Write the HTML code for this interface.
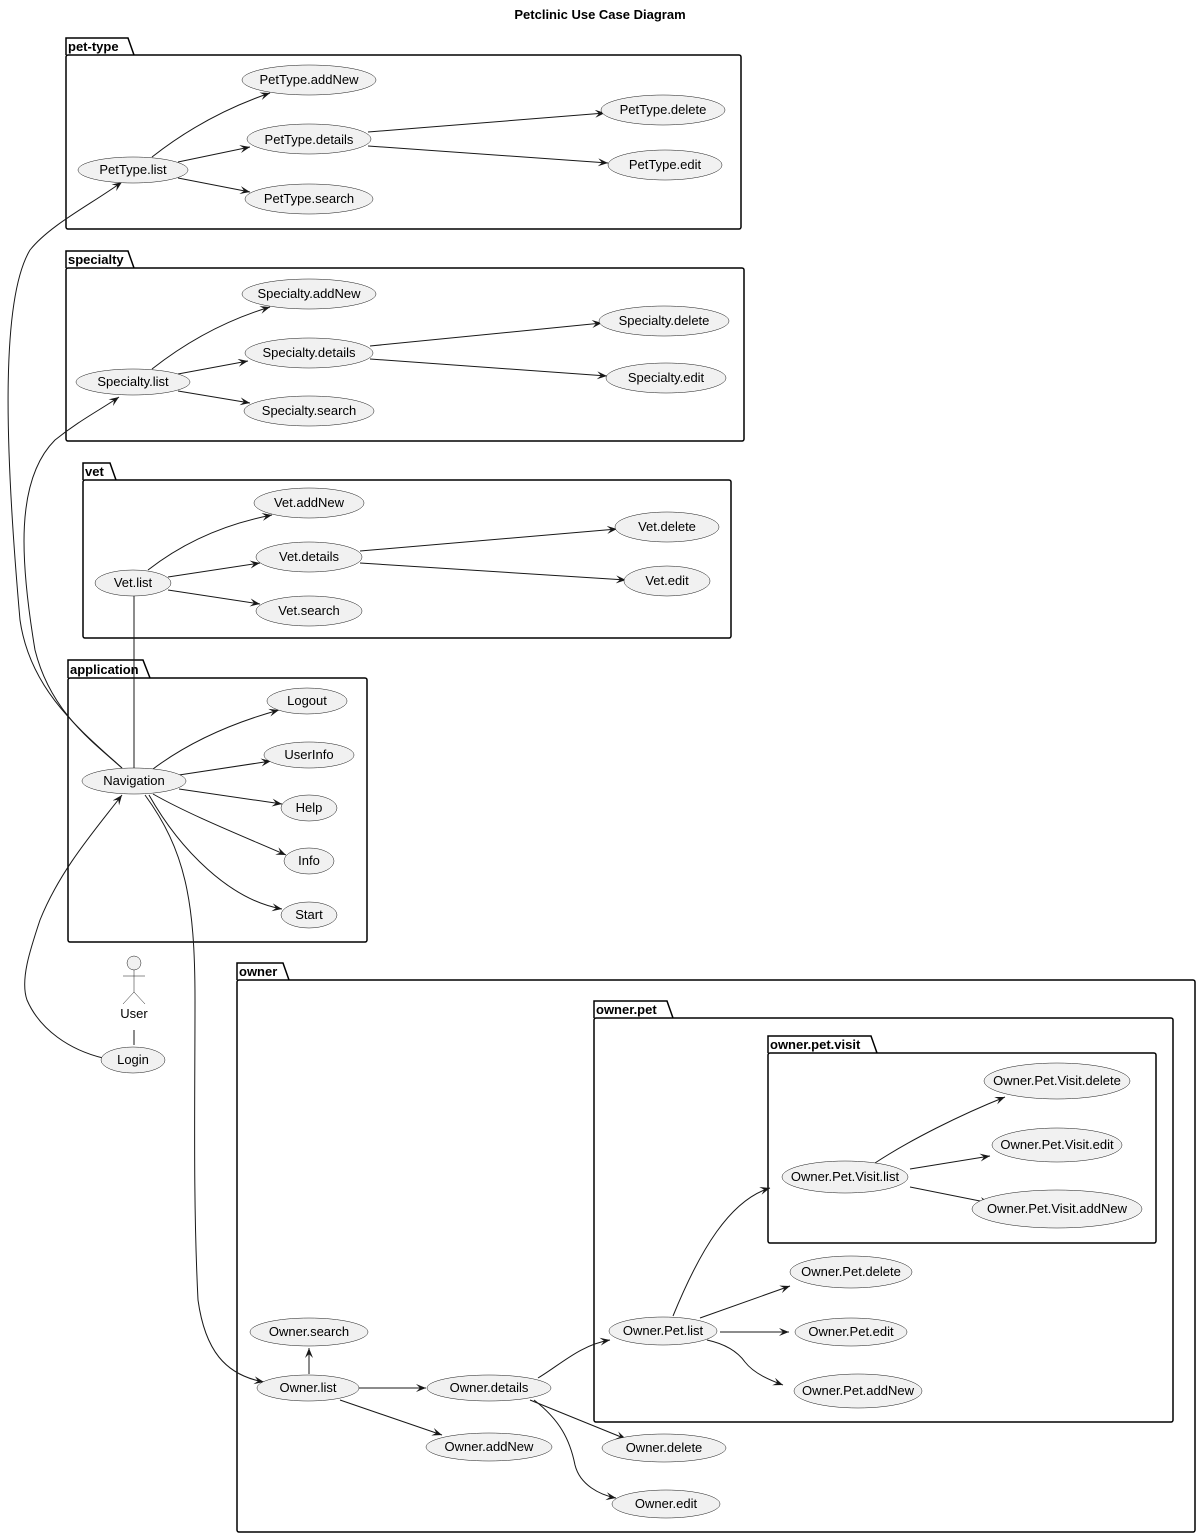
<!DOCTYPE html>
<html><head><meta charset="utf-8"><style>
html,body{margin:0;padding:0;background:#fff;}
svg{display:block;}
text{font-family:"Liberation Sans","DejaVu Sans",sans-serif;font-size:13px;fill:#000;}
.t{font-weight:bold;font-size:13px;}
ellipse{fill:#f1f1f1;stroke:#181818;stroke-width:0.5;}
.pk{fill:none;stroke:#000;stroke-width:1.5;}
.e{fill:none;stroke:#181818;stroke-width:1;}
.a{fill:none;stroke:#181818;stroke-width:1;marker-end:url(#ar);}
</style></head><body>
<svg width="1200" height="1537" viewBox="0 0 1200 1537" xmlns="http://www.w3.org/2000/svg">
<defs><marker id="ar" markerUnits="userSpaceOnUse" markerWidth="12" markerHeight="10" refX="10" refY="4" orient="auto"><path d="M0,0 L10,4 L0,8 L4,4 Z" fill="#181818"/></marker></defs>
<text x="600" y="19" text-anchor="middle" class="t">Petclinic Use Case Diagram</text>

<!-- packages -->
<g class="pk">
<path d="M66,55 V38 H128 L134,55"/><rect x="66" y="55" width="675" height="174" rx="2"/>
<path d="M66,268 V251 H128 L134,268"/><rect x="66" y="268" width="678" height="173" rx="2"/>
<path d="M83,480 V463 H110 L116,480"/><rect x="83" y="480" width="648" height="158" rx="2"/>
<path d="M68,678 V660 H143 L150,678"/><rect x="68" y="678" width="299" height="264" rx="2"/>
<path d="M237,980 V963 H283 L289,980"/><rect x="237" y="980" width="958" height="552" rx="2"/>
<path d="M594,1018 V1001 H667 L673,1018"/><rect x="594" y="1018" width="579" height="404" rx="2"/>
<path d="M768,1053 V1036 H871 L877,1053"/><rect x="768" y="1053" width="388" height="190" rx="2"/>
</g>
<text x="68" y="51" class="t">pet-type</text>
<text x="68" y="264" class="t">specialty</text>
<text x="85" y="476" class="t">vet</text>
<text x="70" y="674" class="t">application</text>
<text x="239" y="976" class="t">owner</text>
<text x="596" y="1014" class="t">owner.pet</text>
<text x="770" y="1049" class="t">owner.pet.visit</text>

<!-- edges -->
<g>
<path class="a" d="M152,157 C180,135 220,110 270,93"/>
<path class="a" d="M178,162 L250,147"/>
<path class="a" d="M178,178 L250,192"/>
<path class="a" d="M368,132 L605,113"/>
<path class="a" d="M368,146 L608,163"/>
<path class="a" d="M152,369 C180,347 220,322 270,307"/>
<path class="a" d="M178,374 L248,361"/>
<path class="a" d="M178,391 L250,403"/>
<path class="a" d="M370,346 L602,323"/>
<path class="a" d="M370,359 L607,376"/>
<path class="a" d="M148,570 C180,545 220,525 272,515"/>
<path class="a" d="M168,577 L260,563"/>
<path class="a" d="M168,590 L260,604"/>
<path class="a" d="M360,551 L617,529"/>
<path class="a" d="M360,563 L626,580"/>
<path class="a" d="M153,769 C185,745 225,725 279,710"/>
<path class="a" d="M179,775 L271,761"/>
<path class="a" d="M179,789 L282,804"/>
<path class="a" d="M153,794 C190,815 240,835 286,855"/>
<path class="a" d="M149,795 C180,850 230,900 282,909"/>
<path class="a" d="M134,768 V570"/>
<path class="a" d="M122,768 C90,740 50,710 35,650 C20,560 15,480 55,440 C80,420 100,410 119,397"/>
<path class="a" d="M122,768 C80,730 30,690 20,620 C5,450 0,300 30,250 C50,225 90,205 122,182"/>
<path class="a" d="M103,1058 C70,1050 40,1030 27,1000 C20,980 30,950 40,920 C60,870 95,830 122,795"/>
<path class="e" d="M134,1030 V1045"/>
<path class="a" d="M145,795 C185,850 195,900 195,1000 C195,1100 193,1200 198,1300 C205,1350 225,1375 264,1382"/>
<path class="a" d="M309,1374 V1348"/>
<path class="a" d="M359,1388 H426"/>
<path class="a" d="M340,1400 L442,1435"/>
<path class="a" d="M538,1378 C560,1365 580,1345 610,1340"/>
<path class="a" d="M530,1400 L626,1439"/>
<path class="a" d="M534,1400 C560,1420 570,1440 575,1465 C580,1485 600,1495 616,1498"/>
<path class="a" d="M673,1316 C700,1250 730,1200 770,1188"/>
<path class="a" d="M700,1318 L790,1286"/>
<path class="a" d="M720,1332 H789"/>
<path class="a" d="M707,1340 C730,1345 740,1355 745,1362 C755,1375 775,1382 783,1385"/>
<path class="a" d="M875,1163 C910,1140 960,1115 1005,1097"/>
<path class="a" d="M910,1169 L990,1156"/>
<path class="a" d="M910,1187 L990,1203"/>
</g>

<!-- actor -->
<g class="e" style="stroke:#181818">
<circle cx="134" cy="963" r="7" fill="#f1f1f1" stroke-width="0.5"/>
<path d="M134,970 V992 M123,976 H145 M123,1004 L134,992 L145,1004" stroke-width="0.5"/>
</g>
<text x="134" y="1018" text-anchor="middle">User</text>

<!-- nodes -->
<g text-anchor="middle">
<ellipse cx="309" cy="80" rx="67" ry="15"/><text x="309" y="84">PetType.addNew</text>
<ellipse cx="309" cy="139" rx="62" ry="15"/><text x="309" y="144">PetType.details</text>
<ellipse cx="309" cy="199" rx="64" ry="15"/><text x="309" y="203">PetType.search</text>
<ellipse cx="133" cy="170" rx="55" ry="13"/><text x="133" y="174">PetType.list</text>
<ellipse cx="663" cy="110" rx="62" ry="15"/><text x="663" y="114">PetType.delete</text>
<ellipse cx="665" cy="165" rx="57" ry="15"/><text x="665" y="169">PetType.edit</text>

<ellipse cx="309" cy="294" rx="67" ry="15"/><text x="309" y="298">Specialty.addNew</text>
<ellipse cx="309" cy="353" rx="64" ry="15"/><text x="309" y="357">Specialty.details</text>
<ellipse cx="309" cy="411" rx="65" ry="15"/><text x="309" y="415">Specialty.search</text>
<ellipse cx="133" cy="382" rx="57" ry="13"/><text x="133" y="386">Specialty.list</text>
<ellipse cx="664" cy="321" rx="65" ry="15"/><text x="664" y="325">Specialty.delete</text>
<ellipse cx="666" cy="378" rx="60" ry="15"/><text x="666" y="382">Specialty.edit</text>

<ellipse cx="309" cy="503" rx="55" ry="15"/><text x="309" y="507">Vet.addNew</text>
<ellipse cx="309" cy="557" rx="53" ry="15"/><text x="309" y="561">Vet.details</text>
<ellipse cx="309" cy="611" rx="53" ry="15"/><text x="309" y="615">Vet.search</text>
<ellipse cx="133" cy="583" rx="38" ry="13"/><text x="133" y="587">Vet.list</text>
<ellipse cx="667" cy="527" rx="52" ry="15"/><text x="667" y="531">Vet.delete</text>
<ellipse cx="667" cy="581" rx="43" ry="15"/><text x="667" y="585">Vet.edit</text>

<ellipse cx="307" cy="701" rx="40" ry="13"/><text x="307" y="705">Logout</text>
<ellipse cx="309" cy="755" rx="45" ry="13"/><text x="309" y="759">UserInfo</text>
<ellipse cx="309" cy="808" rx="28" ry="13"/><text x="309" y="812">Help</text>
<ellipse cx="309" cy="861" rx="25" ry="13"/><text x="309" y="865">Info</text>
<ellipse cx="309" cy="915" rx="28" ry="13"/><text x="309" y="919">Start</text>
<ellipse cx="134" cy="781" rx="52" ry="13"/><text x="134" y="785">Navigation</text>

<ellipse cx="133" cy="1060" rx="32" ry="13"/><text x="133" y="1064">Login</text>

<ellipse cx="1057" cy="1081" rx="73" ry="18"/><text x="1057" y="1085">Owner.Pet.Visit.delete</text>
<ellipse cx="1057" cy="1145" rx="65" ry="17"/><text x="1057" y="1149">Owner.Pet.Visit.edit</text>
<ellipse cx="1057" cy="1209" rx="85" ry="19"/><text x="1057" y="1213">Owner.Pet.Visit.addNew</text>
<ellipse cx="845" cy="1177" rx="63" ry="16"/><text x="845" y="1181">Owner.Pet.Visit.list</text>
<ellipse cx="851" cy="1272" rx="61" ry="16"/><text x="851" y="1276">Owner.Pet.delete</text>
<ellipse cx="851" cy="1332" rx="56" ry="14"/><text x="851" y="1336">Owner.Pet.edit</text>
<ellipse cx="858" cy="1391" rx="64" ry="17"/><text x="858" y="1395">Owner.Pet.addNew</text>
<ellipse cx="663" cy="1331" rx="54" ry="14"/><text x="663" y="1335">Owner.Pet.list</text>

<ellipse cx="309" cy="1332" rx="59" ry="14"/><text x="309" y="1336">Owner.search</text>
<ellipse cx="308" cy="1388" rx="51" ry="13"/><text x="308" y="1392">Owner.list</text>
<ellipse cx="489" cy="1388" rx="62" ry="13"/><text x="489" y="1392">Owner.details</text>
<ellipse cx="489" cy="1447" rx="63" ry="14"/><text x="489" y="1451">Owner.addNew</text>
<ellipse cx="664" cy="1448" rx="62" ry="14"/><text x="664" y="1452">Owner.delete</text>
<ellipse cx="666" cy="1504" rx="54" ry="14"/><text x="666" y="1508">Owner.edit</text>
</g>
</svg>
</body></html>
